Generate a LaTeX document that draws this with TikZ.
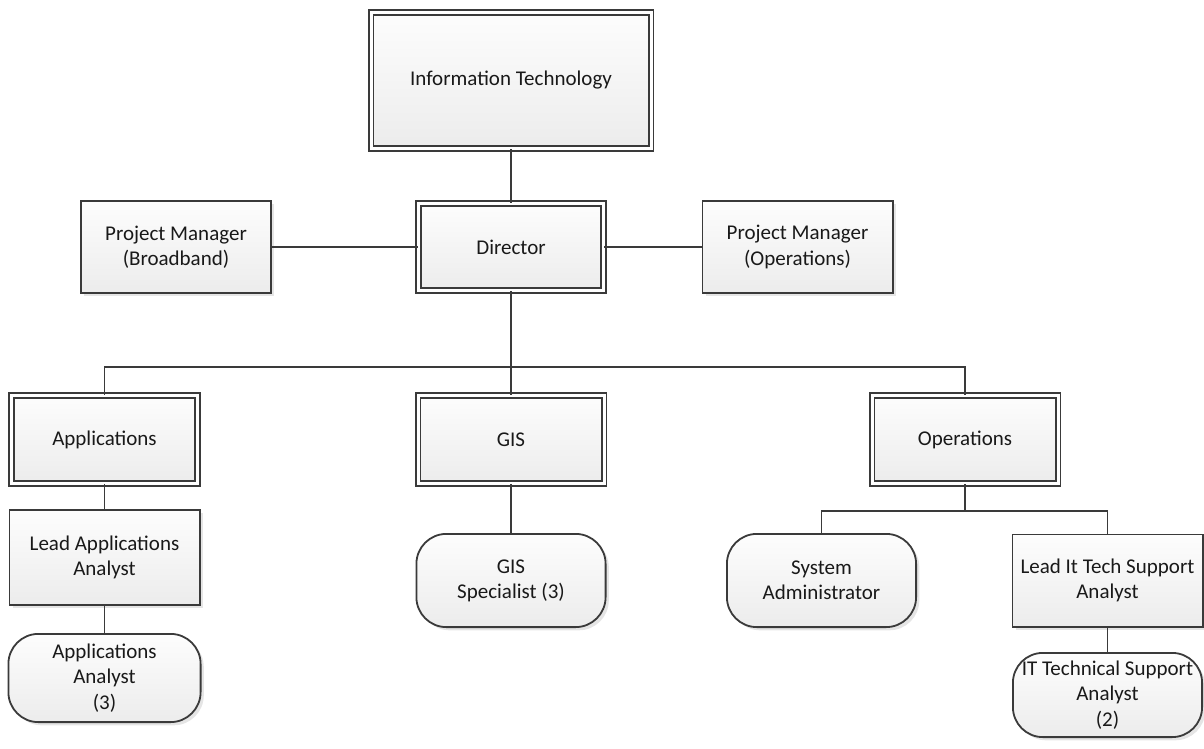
\documentclass[tikz,border=0pt]{standalone}
\usepackage{fontspec}
\setmainfont{Carlito}
\usetikzlibrary{positioning,shadows}
\definecolor{ink}  {HTML}{3A3A3A}
\definecolor{paper}{HTML}{FDFDFD}
\definecolor{shade}{HTML}{ECECEC}
\tikzset{
  every node/.style={font=\fontsize{10.5}{12.6}\selectfont},
  % --- nodes
  box/.style   = {draw=ink, line width=0.9pt, top color=paper, bottom color=shade,
                  align=center, inner sep=2pt, text=black!90,
                  drop shadow={shadow xshift=1.6pt, shadow yshift=-1.6pt,
                               fill=black!10, opacity=1}},
  unit/.style  = {box, double=white, double distance=1.5pt,
                  minimum width=93pt, minimum height=44pt},
  role/.style  = {box, minimum width=95.1pt, minimum height=46.1pt},
  staff/.style = {box, rounded corners=15pt, minimum width=94.6pt, minimum height=46.6pt},
  % --- edges
  link/.style  = {draw=ink, line width=0.9pt},
}

\begin{document}
\begin{tikzpicture}[x=0.5pt, y=-0.5pt]
  \useasboundingbox (0,0) rectangle (1204,749);

  % top of the department
  \node[unit, minimum width=140pt, minimum height=68pt] (it) at (511,80.5) {Information Technology};
  \node[unit, minimum width=92.5pt, minimum height=43.5pt] (dir) at (511,247) {Director};
  \node[role] (pmb) at (176,247) {Project Manager\\(Broadband)};
  \node[role] (pmo) at (797.5,247) {Project Manager\\(Operations)};

  % divisions
  \node[unit] (app) at (104.5,439.5) {Applications};
  \node[unit] (gis) at (511,439.5) {GIS};
  \node[unit] (ops) at (965,439.5) {Operations};

  % staff under each division
  \node[role, minimum height=47.6pt] (lapp) at (104.5,557.5) {Lead Applications\\Analyst};
  \node[staff, minimum width=96.1pt, minimum height=44.1pt] (appa) at (104.5,678) {Applications\\Analyst\\(3)};
  \node[staff] (gisp) at (511,580.5) {GIS\\Specialist (3)};
  \node[staff] (sys) at (821.5,580.5) {System\\Administrator};
  \node[role] (lit) at (1107.5,580.5) {Lead It Tech Support\\Analyst};
  \node[staff, minimum height=42.1pt] (itsa) at (1107.5,695) {IT Technical Support\\Analyst\\(2)};

  \coordinate (bus) at (511,367);
  \coordinate (opsbus) at (965,511);

  \draw[link] (it) -- (dir);
  \draw[link] (pmb) -- (dir);
  \draw[link] (dir) -- (pmo);
  \draw[link] (dir) -- (gis);
  \draw[link] (app.north) |- (bus) -| (ops.north);
  \draw[link] (app) -- (lapp);
  \draw[link] (lapp) -- (appa);
  \draw[link] (gis) -- (gisp);
  \draw[link] (ops.south) -- (opsbus);
  \draw[link] (sys.north) |- (opsbus) -| (lit.north);
  \draw[link] (lit) -- (itsa);
\end{tikzpicture}
\end{document}
